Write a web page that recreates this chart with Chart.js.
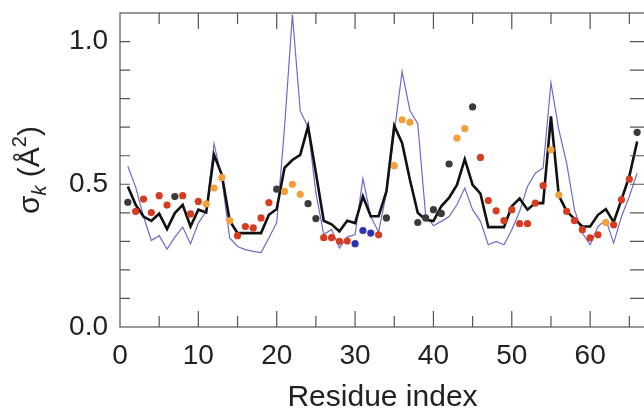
<!DOCTYPE html>
<html>
<head>
<meta charset="utf-8">
<script src="https://cdn.jsdelivr.net/npm/chart.js@4"></script>
<style>
html,body{margin:0;padding:0;background:#fff;overflow:hidden}
</style>
</head>
<body>
<canvas id="myChart" width="650" height="416"></canvas>
<script>
// residue numbers along the x axis
let residues = [1,2,3,4,5,6,7,8,9,10,11,12,13,14,15,16,17,18,19,20,
  21,22,23,24,25,26,27,28,29,30,31,32,33,34,35,36,37,38,39,40,
  41,42,43,44,45,46,47,48,49,50,51,52,53,54,55,56,57,58,59,60,
  61,62,63,64,65,66];

// thick black curve
let sigmaBlack = [0.492,0.428,0.387,0.372,0.397,0.343,0.399,0.428,0.352,0.411,
  0.401,0.603,0.533,0.372,0.329,0.329,0.329,0.329,0.393,0.413,
  0.558,0.585,0.603,0.703,0.54,0.372,0.36,0.335,0.372,0.364,
  0.458,0.388,0.388,0.475,0.705,0.645,0.516,0.4,0.376,0.371,
  0.423,0.453,0.498,0.588,0.498,0.467,0.35,0.35,0.35,0.423,
  0.45,0.411,0.434,0.434,0.738,0.46,0.406,0.379,0.352,0.352,
  0.393,0.413,0.367,0.446,0.528,0.65];

// thin blue curve
let sigmaBlue = [0.563,0.49,0.387,0.303,0.32,0.273,0.315,0.35,0.292,0.364,
  0.405,0.642,0.52,0.312,0.282,0.271,0.265,0.261,0.312,0.366,
  0.70,1.095,0.757,0.70,0.47,0.324,0.342,0.277,0.315,0.324,
  0.52,0.387,0.333,0.469,0.68,0.895,0.758,0.712,0.393,0.355,
  0.37,0.387,0.428,0.487,0.411,0.37,0.288,0.30,0.288,0.341,
  0.405,0.492,0.539,0.557,0.855,0.691,0.574,0.411,0.329,0.288,
  0.352,0.376,0.294,0.387,0.457,0.539];

// dots and their colour group (k black, r red, o orange, b blue)
let sigmaDots = [0.437,0.405,0.448,0.401,0.46,0.427,0.457,0.46,0.396,0.44,
  0.431,0.487,0.524,0.373,0.32,0.352,0.347,0.382,0.436,0.483,
  0.475,0.5,0.465,0.432,0.38,0.313,0.313,0.3,0.301,0.292,
  0.338,0.329,0.323,0.382,0.565,0.726,0.717,0.366,0.382,0.411,
  0.398,0.571,0.662,0.695,0.771,0.594,0.443,0.407,0.373,0.411,
  0.362,0.362,0.434,0.495,0.621,0.463,0.405,0.373,0.341,0.312,
  0.323,0.366,0.358,0.446,0.518,0.682];
let dotGroup = ['k','r','r','r','r','r','k','r','r','r',
  'o','o','o','o','r','r','r','r','r','k',
  'o','o','o','k','k','r','r','r','r','b',
  'b','b','r','k','o','o','o','k','k','k',
  'k','k','o','o','k','r','r','r','r','r',
  'r','r','r','r','o','o','r','r','r','r',
  'r','o','r','r','r','k'];

let xTicks = [0,10,20,30,40,50,60];
let yTicks = [0.0,0.5,1.0];

let groupColors = {k:'#3b3b3b', r:'#d63c1f', o:'#f2a03a', b:'#2a33b0'};
let fontFam = '"Liberation Sans", Arial, Helvetica, sans-serif';

function pts(arr){
  return residues.map((r,i)=>({x:r, y:arr[i]}));
}

// frame with inward ticks + y title with sub/superscript
let framePlugin = {
  id:'frame',
  afterDraw(chart){
    let ctx = chart.ctx;
    let a = chart.chartArea;
    let xs = chart.scales.x, ys = chart.scales.y;
    ctx.save();
    ctx.strokeStyle = '#555';
    ctx.lineWidth = 1.2;
    ctx.strokeRect(a.left, a.top, a.right-a.left, a.bottom-a.top);
    ctx.beginPath();
    for(let v=5; v<xs.max; v+=5){
      let px = xs.getPixelForValue(v);
      let len = (v%10==0) ? 16 : 11;
      ctx.moveTo(px, a.bottom); ctx.lineTo(px, a.bottom-len);
      ctx.moveTo(px, a.top); ctx.lineTo(px, a.top+len);
    }
    for(let i=1; i<=10; i++){
      let py = ys.getPixelForValue(i/10);
      ctx.moveTo(a.left, py); ctx.lineTo(a.left+10, py);
      ctx.moveTo(a.right, py); ctx.lineTo(a.right-15, py);
    }
    ctx.stroke();

    // y axis title: sigma_k (A^2)
    ctx.fillStyle = '#222';
    ctx.translate(39, 170);
    ctx.rotate(-Math.PI/2);
    ctx.textBaseline = 'alphabetic';
    let parts = [
      {t:'σ', f:'30px '+fontFam, dy:0},
      {t:'k', f:'italic 20px '+fontFam, dy:7},
      {t:' (Å', f:'30px '+fontFam, dy:0},
      {t:'2', f:'20px '+fontFam, dy:-13},
      {t:')', f:'30px '+fontFam, dy:0}
    ];
    let total = 0;
    parts.forEach(p=>{ ctx.font = p.f; p.w = ctx.measureText(p.t).width; total += p.w; });
    let cx = -total/2;
    parts.forEach(p=>{ ctx.font = p.f; ctx.fillText(p.t, cx, p.dy); cx += p.w; });
    ctx.restore();
  }
};

new Chart('myChart', {
  type:'line',
  data:{
    datasets:[
      {
        label:'dots',
        data:pts(sigmaDots),
        showLine:false,
        pointRadius:3.6,
        pointBorderWidth:0,
        pointBackgroundColor:dotGroup.map(g=>groupColors[g]),
        pointBorderColor:dotGroup.map(g=>groupColors[g])
      },
      {
        label:'black',
        data:pts(sigmaBlack),
        borderColor:'#111',
        borderWidth:2.6,
        pointRadius:0,
        tension:0
      },
      {
        label:'blue',
        data:pts(sigmaBlue),
        borderColor:'#6e6acb',
        borderWidth:1.2,
        pointRadius:0,
        tension:0
      }
    ]
  },
  options:{
    responsive:false,
    animation:false,
    layout:{padding:{top:13, right:5, left:0, bottom:0}},
    plugins:{legend:{display:false}, tooltip:{enabled:false}},
    scales:{
      x:{
        type:'linear', min:0, max:67,
        afterBuildTicks:s=>{ s.ticks = xTicks.map(v=>({value:v})); },
        afterFit:s=>{ s.height = 89; s.paddingLeft = 0; s.paddingRight = 0; },
        grid:{display:false, drawTicks:false},
        border:{display:false},
        ticks:{font:{size:28, family:fontFam}, color:'#222', padding:12, maxRotation:0, autoSkip:false},
        title:{display:true, text:'Residue index', font:{size:30, family:fontFam}, color:'#222', padding:{top:0,bottom:0}}
      },
      y:{
        min:0, max:1.1,
        afterBuildTicks:s=>{ s.ticks = yTicks.map(v=>({value:v})); },
        afterFit:s=>{ s.width = 120; s.paddingTop = 0; s.paddingBottom = 0; },
        grid:{display:false, drawTicks:false},
        border:{display:false},
        ticks:{font:{size:28, family:fontFam}, color:'#222', padding:12, callback:v=>v.toFixed(1)}
      }
    }
  },
  plugins:[framePlugin]
});
</script>
</body>
</html>
